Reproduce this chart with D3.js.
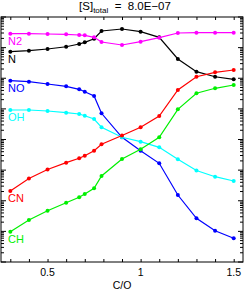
<!DOCTYPE html>
<html>
<head>
<meta charset="utf-8">
<script src="https://cdn.jsdelivr.net/npm/d3@7"></script>
<style>
  body { margin: 0; background: #fff; }
  text { font-family: "Liberation Sans", Arial, sans-serif; }
</style>
</head>
<body>
<div class="chart"></div>
<script>
const co = [0.3, 0.4, 0.5, 0.6, 0.67, 0.7, 0.75, 0.79, 0.9, 1.0, 1.1, 1.2, 1.3, 1.4, 1.5];

const n2 = [2.85e-5, 2.85e-5, 2.79e-5, 2.72e-5, 2.58e-5, 2.52e-5, 2.17e-5, 1.53e-5, 1.22e-5, 1.56e-5, 2.11e-5, 3.0e-5, 3.07e-5, 3.07e-5, 3.07e-5];
const nAtom = [7.36e-6, 7.94e-6, 9.02e-6, 1.07e-5, 1.31e-5, 1.49e-5, 1.95e-5, 3.49e-5, 4.06e-5, 3.31e-5, 2.17e-5, 4.26e-6, 1.64e-6, 1.12e-6, 9.24e-7];
const no = [8.31e-7, 7.71e-7, 6.48e-7, 5.46e-7, 4.35e-7, 3.64e-7, 2.63e-7, 7.17e-8, 1.18e-8, 4.31e-9, 1.67e-9, 1.54e-10, 2.67e-11, 1.05e-11, 5.94e-12];
const oh = [9.18e-8, 9.18e-8, 8.52e-8, 7.50e-8, 6.80e-8, 5.98e-8, 4.67e-8, 2.50e-8, 1.18e-8, 8.48e-9, 5.56e-9, 2.26e-9, 9.72e-10, 6.10e-10, 4.42e-10];
const cn = [2.08e-10, 5.33e-10, 1.05e-9, 1.75e-9, 2.43e-9, 2.96e-9, 4.31e-9, 6.97e-9, 1.35e-8, 2.50e-8, 5.85e-8, 4.13e-7, 1.12e-6, 1.56e-6, 1.86e-6];
const ch = [9.75e-12, 2.35e-11, 4.73e-11, 8.63e-11, 1.30e-10, 1.66e-10, 2.55e-10, 6.43e-10, 2.31e-9, 4.78e-9, 1.18e-8, 9.68e-8, 3.23e-7, 4.70e-7, 6.03e-7];

const species = [
  { name: "N", values: nAtom, color: "#000000" },
  { name: "N2", values: n2, color: "#ff00ff" },
  { name: "NO", values: no, color: "#0000ff" },
  { name: "OH", values: oh, color: "#00ffff" },
  { name: "CN", values: cn, color: "#ff0000" },
  { name: "CH", values: ch, color: "#00f000" },
];

const xTickLabels = [0.5, 1, 1.5];

const svgWidth = 245;
const svgHeight = 291;
const margin = { top: 17, right: 2, bottom: 29, left: 1 };
const innerWidth = svgWidth - margin.left - margin.right;
const innerHeight = svgHeight - margin.top - margin.bottom;

const svg = d3.select(".chart").append("svg")
  .attr("width", svgWidth)
  .attr("height", svgHeight);

const xScale = d3.scaleLinear().domain([0.25, 1.55]).range([0, innerWidth]);
const yScale = d3.scaleLog().domain([1e-12, 1e-4]).range([innerHeight, 0]);

const g = svg.append("g")
  .attr("transform", `translate(${margin.left}, ${margin.top})`);

// frame
g.append("rect")
  .attr("width", innerWidth)
  .attr("height", innerHeight)
  .attr("fill", "none")
  .attr("stroke", "#000")
  .attr("stroke-width", 1);

// x ticks (bottom + top)
const xMinor = d3.range(3, 16).map((d) => d / 10);
g.append("g")
  .attr("transform", `translate(0, ${innerHeight})`)
  .call(d3.axisBottom(xScale).tickValues(xMinor).tickSize(-3).tickFormat(""))
  .call((a) => a.select(".domain").remove());
g.append("g")
  .call(d3.axisTop(xScale).tickValues(xMinor).tickSize(-3).tickFormat(""))
  .call((a) => a.select(".domain").remove());

g.selectAll(".xlabel")
  .data(xTickLabels)
  .enter()
  .append("text")
  .attr("x", (d) => xScale(d))
  .attr("y", innerHeight + 14)
  .attr("text-anchor", "middle")
  .attr("font-size", 10.5)
  .text((d) => d);

g.append("text")
  .attr("x", innerWidth / 2)
  .attr("y", innerHeight + 27)
  .attr("text-anchor", "middle")
  .attr("font-size", 10.5)
  .text("C/O");

// y ticks (left + right), log
const yTicks = yScale.ticks();
const isMajor = (d) => Math.abs(Math.log10(d) - Math.round(Math.log10(d))) < 1e-6;
g.selectAll(".ytickL")
  .data(yTicks)
  .enter()
  .append("line")
  .attr("x1", 0)
  .attr("x2", (d) => (isMajor(d) ? 5 : 3))
  .attr("y1", (d) => yScale(d))
  .attr("y2", (d) => yScale(d))
  .attr("stroke", "#000");
g.selectAll(".ytickR")
  .data(yTicks)
  .enter()
  .append("line")
  .attr("x1", innerWidth)
  .attr("x2", (d) => innerWidth - (isMajor(d) ? 5 : 3))
  .attr("y1", (d) => yScale(d))
  .attr("y2", (d) => yScale(d))
  .attr("stroke", "#000");

// series
const line = d3.line()
  .x((d, i) => xScale(co[i]))
  .y((d) => yScale(d));

species.forEach((s) => {
  const sg = g.append("g");
  sg.append("path")
    .attr("d", line(s.values))
    .attr("fill", "none")
    .attr("stroke", s.color)
    .attr("stroke-width", 1.2);
  sg.selectAll("circle")
    .data(s.values)
    .enter()
    .append("circle")
    .attr("cx", (d, i) => xScale(co[i]))
    .attr("cy", (d) => yScale(d))
    .attr("r", 2)
    .attr("fill", s.color);
  sg.append("text")
    .attr("x", 7)
    .attr("y", yScale(s.values[0]) + 11)
    .attr("font-size", 11)
    .attr("fill", s.color)
    .text(s.name);
});

// title
const title = svg.append("text")
  .attr("x", 125)
  .attr("y", 10)
  .attr("text-anchor", "middle")
  .attr("font-size", 11.5)
  .style("white-space", "pre");
title.append("tspan").text("[S]");
title.append("tspan").attr("font-size", 8).attr("dy", 2.5).text("total");
title.append("tspan").attr("dy", -2.5).text("  =  8.0E\u221207");
</script>
</body>
</html>
